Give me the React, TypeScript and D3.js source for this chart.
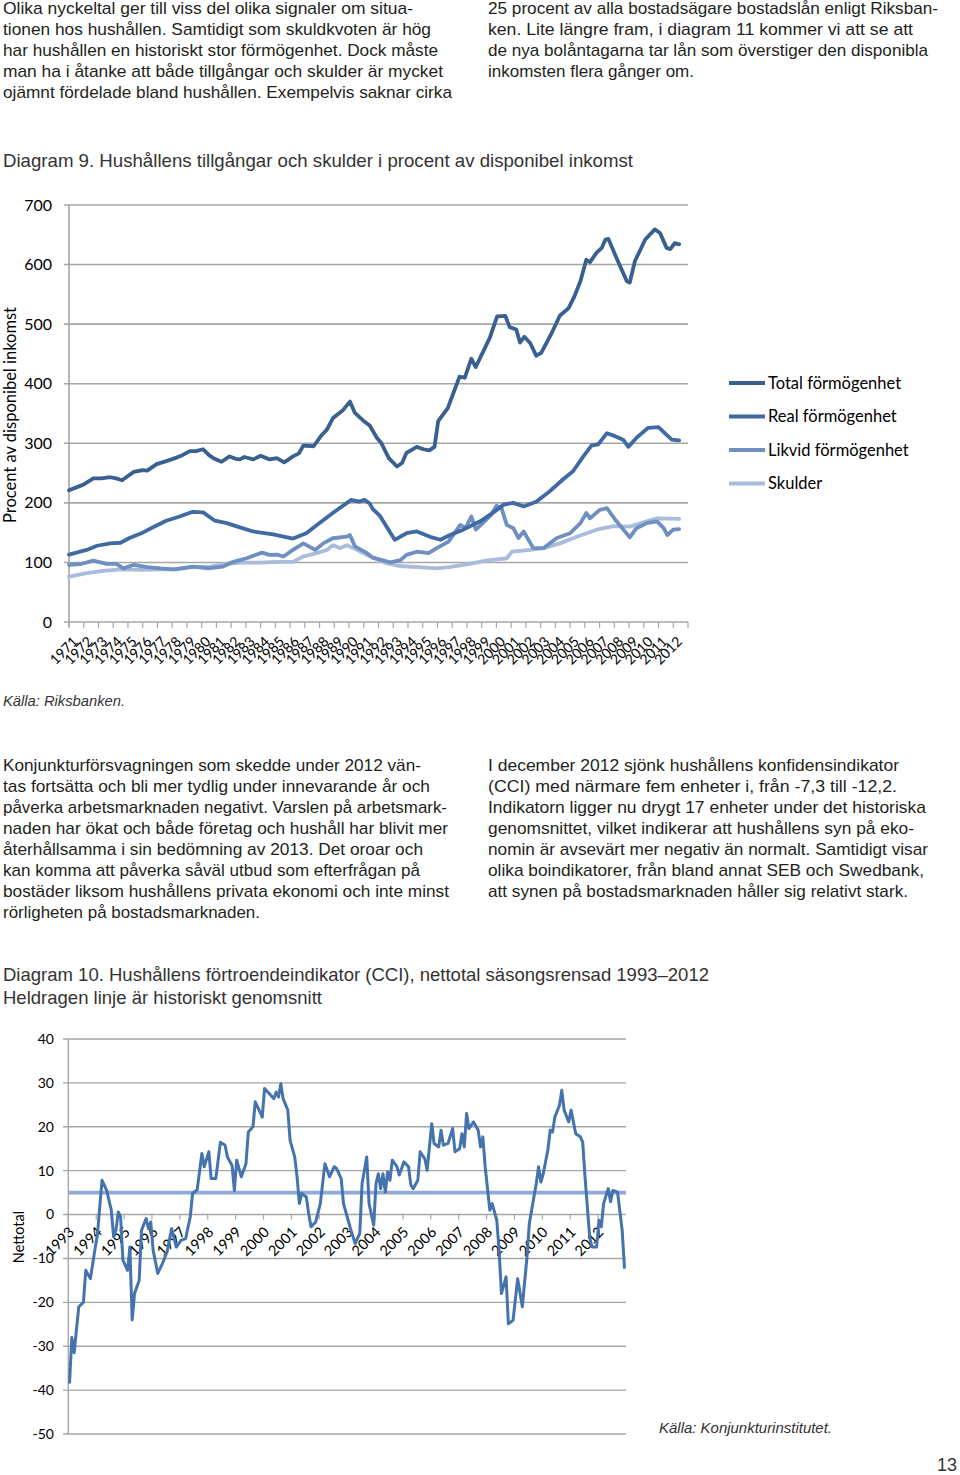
import React from "react";
import * as d3 from "d3";

// ---------- Data: Diagram 9 (procent av disponibel inkomst) ----------
const years9: number[] = d3.range(1971, 2013);
const yTicks9: number[] = [0, 100, 200, 300, 400, 500, 600, 700];

const totalFormogenhet: [number, number][] = [
  [1971.0, 221], [1971.5, 226], [1972.0, 231], [1972.65, 241], [1973.2, 241], [1973.8, 243], [1974.2, 241],
  [1974.6, 238], [1975.0, 245], [1975.4, 252], [1976.0, 255], [1976.3, 254], [1976.95, 265], [1977.6, 270],
  [1978.3, 276], [1978.7, 280], [1979.2, 287], [1979.6, 287], [1980.1, 290], [1980.5, 280], [1980.8, 275],
  [1981.35, 269], [1981.9, 278], [1982.3, 274], [1982.6, 273], [1982.9, 277], [1983.5, 273], [1984.0, 279],
  [1984.6, 273], [1985.1, 275], [1985.6, 268], [1986.2, 278], [1986.6, 283], [1986.9, 296], [1987.6, 295],
  [1988.15, 314], [1988.5, 323], [1988.9, 342], [1989.6, 356], [1990.06, 370], [1990.4, 351], [1990.97, 338],
  [1991.4, 330], [1991.9, 309], [1992.2, 300], [1992.7, 275], [1993.25, 261], [1993.6, 267], [1993.9, 284],
  [1994.6, 294], [1995.05, 290], [1995.45, 288], [1995.8, 294], [1996.05, 337], [1996.7, 359], [1997.5, 412],
  [1997.85, 410], [1998.3, 442], [1998.6, 428], [1999.55, 477], [2000.05, 513], [2000.6, 514], [2000.9, 495],
  [2001.35, 491], [2001.6, 469], [2001.9, 479], [2002.3, 468], [2002.7, 447], [2003.05, 452], [2003.75, 485],
  [2004.3, 514], [2004.9, 527], [2005.3, 547], [2005.7, 572], [2006.1, 608], [2006.35, 604], [2006.8, 620],
  [2007.15, 628], [2007.4, 642], [2007.6, 643], [2008.15, 611], [2008.85, 572], [2009.05, 570], [2009.4, 606],
  [2010.1, 642], [2010.75, 659], [2011.1, 653], [2011.55, 628], [2011.8, 626], [2012.1, 636], [2012.4, 634],
];

const realFormogenhet: [number, number][] = [
  [1971.0, 113], [1972.2, 121], [1972.9, 128], [1973.8, 132], [1974.5, 133], [1975.1, 141], [1976.0, 150],
  [1976.7, 159], [1977.6, 170], [1978.5, 177], [1979.4, 185], [1980.1, 184], [1980.9, 170], [1981.7, 166],
  [1982.7, 158], [1983.5, 152], [1984.85, 147], [1986.2, 140], [1987.1, 149], [1988.0, 166], [1988.9, 183],
  [1990.15, 205], [1990.7, 202], [1991.05, 205], [1991.4, 199], [1991.6, 190], [1992.1, 178], [1993.1, 138],
  [1993.9, 149], [1994.6, 152], [1995.5, 143], [1996.2, 138], [1996.85, 146], [1997.75, 155], [1998.9, 169],
  [1999.8, 184], [2000.5, 197], [2001.15, 200], [2001.85, 194], [2002.7, 202], [2003.6, 219], [2004.55, 240],
  [2005.2, 253], [2005.9, 278], [2006.45, 296], [2006.9, 298], [2007.5, 317], [2008.05, 312], [2008.6, 306],
  [2008.95, 294], [2009.5, 309], [2010.3, 326], [2011.0, 327], [2011.55, 314], [2011.9, 306], [2012.4, 305],
];

const likvidFormogenhet: [number, number][] = [
  [1971.0, 96], [1971.75, 97], [1972.65, 103], [1973.55, 97.5], [1974.2, 97.5], [1974.7, 90], [1975.4, 96],
  [1976.3, 92], [1977.2, 90], [1978.1, 88.5], [1979.4, 93], [1980.45, 90], [1981.45, 93], [1982.15, 101],
  [1983.05, 107], [1984.1, 116.5], [1984.6, 112.6], [1985.1, 113], [1985.55, 110], [1986.2, 121], [1986.9, 132],
  [1987.7, 121], [1988.25, 132], [1988.9, 140.6], [1989.85, 143.4], [1990.06, 146], [1990.4, 127], [1991.2, 116],
  [1991.6, 108], [1992.8, 100], [1993.5, 104], [1993.9, 112.6], [1994.6, 118], [1995.4, 115.5], [1995.95, 124],
  [1996.75, 135], [1997.55, 163], [1997.9, 157.5], [1998.3, 177], [1998.6, 155], [1999.2, 169], [1999.65, 180],
  [2000.0, 195], [2000.35, 191], [2000.7, 163], [2001.15, 157.5], [2001.5, 141], [2001.85, 152], [2002.5, 124],
  [2003.2, 124], [2004.1, 141], [2005.0, 149], [2005.7, 166], [2006.1, 183], [2006.35, 174], [2007.0, 188],
  [2007.5, 191], [2008.15, 169], [2009.05, 142], [2009.5, 157.5], [2010.2, 166], [2010.9, 169], [2011.35, 157.5],
  [2011.6, 146], [2012.0, 155], [2012.4, 156],
];

const skulder: [number, number][] = [
  [1971.0, 76], [1972.2, 82], [1973.3, 86], [1974.5, 88.5], [1976.0, 87.4], [1977.2, 88.5], [1978.3, 88.5],
  [1979.4, 92], [1980.55, 93], [1981.7, 97.5], [1982.8, 99.7], [1984.0, 99.7], [1985.1, 101], [1986.2, 101],
  [1986.9, 110], [1987.8, 115.5], [1988.5, 121], [1988.9, 129], [1989.4, 124], [1989.85, 129], [1990.3, 124],
  [1991.2, 113], [1991.95, 105], [1992.5, 99], [1993.4, 94], [1994.75, 92], [1995.9, 90], [1996.8, 92],
  [1998.15, 97.5], [1999.3, 103], [2000.7, 107], [2001.05, 118], [2002.3, 121], [2003.2, 124], [2004.3, 132],
  [2005.45, 143], [2006.8, 155], [2007.95, 161], [2009.05, 160], [2010.2, 169], [2010.9, 174], [2012.4, 173],
];

const series9Names: string[] = ["Total förmögenhet", "Real förmögenhet", "Likvid förmögenhet", "Skulder"];
const series9Colors: string[] = ["#3a6090", "#4169a3", "#6f8fc0", "#a9bcdb"];

// ---------- Data: Diagram 10 (CCI, nettotal, månadsvis från jan 1993) ----------
const years10: number[] = d3.range(1993, 2013);
const yTicks10: number[] = [40, 30, 20, 10, 0, -10, -20, -30, -40, -50];
const cciMean = 5;
const cciMonth: number[] = [
  0, 1, 2, 4, 6, 7, 9, 11, 12, 14, 16, 18, 19, 20, 21, 22, 23, 25, 26, 27, 28, 30, 31, 33, 34, 35, 36, 38, 40, 42,
  44, 46, 48, 50, 52, 53, 55, 57, 58, 60, 61, 63, 65, 67, 68, 70, 71, 72, 74, 76, 77, 79, 80, 82, 83, 84, 86, 88,
  89, 90, 91, 92, 94, 95, 97, 98, 99, 100, 102, 103, 104, 106, 108, 110, 111, 112, 114, 115, 117, 118, 120, 121,
  123, 125, 126, 128, 129, 131, 132, 133, 134, 135, 136, 137, 138, 139, 141, 142, 144, 146, 147, 148, 150, 151,
  153, 154, 156, 157, 159, 160, 161, 163, 165, 166, 168, 169, 170, 171, 172, 174, 176, 177, 178, 179, 181, 182,
  184, 185, 186, 188, 189, 191, 193, 195, 197, 198, 200, 201, 202, 203, 204, 206, 207, 208, 209, 211, 212, 213,
  215, 216, 218, 220, 221, 222, 224, 225, 227, 228, 229, 230, 232, 233, 234, 236, 238, 239,
];
const cciValue: number[] = [
  -38.5, -28, -31.5, -21, -20, -12.7, -14.6, -7.8, -4.7, 7.8, 5.5, 1, -5.1, -3.6, 0.6, -0.5, -10.4, -12.7, -7.4,
  -24, -18, -15, -3.6, -0.9, -3.2, -1.7, -8.1, -13.4, -11.2, -8.5, -3.2, -7.4, -5.9, -5.5, -0.5, 4.8, 5.7, 13.9,
  10.9, 14.3, 8.2, 8.2, 16.5, 15.8, 13.1, 11.2, 5.5, 12.4, 8.6, 11.6, 18.8, 20, 25.7, 23.4, 22.2, 28.7, 27.6,
  26.4, 27.9, 26.8, 29.8, 26.4, 23.8, 16.9, 13.1, 8.6, 2.5, 4.8, 4, 0.2, -2.8, -1.7, 2.5, 11.6, 10.1, 8.6, 10.9,
  10.5, 8.2, 2.5, -1.3, -3.2, -6.6, -4.3, 7.1, 13.1, 2.5, -2.4, 7.1, 9.3, 5.9, 9.3, 5.1, 9.7, 7.8, 12.4, 10.9,
  9, 12, 10.9, 6.7, 5.9, 7.8, 14.3, 12.7, 10.1, 20.7, 16.2, 15.4, 19.2, 15.8, 16.2, 19.6, 14.3, 15, 18.4, 15.4,
  23, 19.6, 21.1, 19.2, 15.4, 17.7, 10.9, 1, 2.5, -1.3, -8.1, -18, -14.2, -24.9, -24.1, -14.6, -21, -9.7, -2.1,
  4, 7.1, 10.9, 7.4, 9.3, 14.7, 19.2, 18.8, 22.2, 24.9, 28.3, 23.8, 21.1, 23.8, 18.4, 17.7, 16.5, 8.6, -5.1,
  -7.4, -7.4, -1.3, -2.8, 2.5, 5.9, 2.9, 5.5, 5.1, -3.6, -12.3,
];

// ---------- Text ----------
const para1Left: [string, number][] = [
  ["Olika nyckeltal ger till viss del olika signaler om situa-", 410],
  ["tionen hos hushållen. Samtidigt som skuldkvoten är hög", 428],
  ["har hushållen en historiskt stor förmögenhet. Dock måste", 435],
  ["man ha i åtanke att både tillgångar och skulder är mycket", 440],
  ["ojämnt fördelade bland hushållen. Exempelvis saknar cirka", 449],
];
const para1Right: [string, number][] = [
  ["25 procent av alla bostadsägare bostadslån enligt Riksban-", 450],
  ["ken. Lite längre fram, i diagram 11 kommer vi att se att", 425],
  ["de nya bolåntagarna tar lån som överstiger den disponibla", 440],
  ["inkomsten flera gånger om.", 206],
];
const para2Left: [string, number][] = [
  ["Konjunkturförsvagningen som skedde under 2012 vän-", 418],
  ["tas fortsätta och bli mer tydlig under innevarande år och", 427],
  ["påverka arbetsmarknaden negativt. Varslen på arbetsmark-", 444],
  ["naden har ökat och både företag och hushåll har blivit mer", 445],
  ["återhållsamma i sin bedömning av 2013. Det oroar och", 420],
  ["kan komma att påverka såväl utbud som efterfrågan på", 417],
  ["bostäder liksom hushållens privata ekonomi och inte minst", 446],
  ["rörligheten på bostadsmarknaden.", 257],
];
const para2Right: [string, number][] = [
  ["I december 2012 sjönk hushållens konfidensindikator", 411],
  ["(CCI) med närmare fem enheter i, från -7,3 till -12,2.", 409],
  ["Indikatorn ligger nu drygt 17 enheter under det historiska", 438],
  ["genomsnittet, vilket indikerar att hushållens syn på eko-", 426],
  ["nomin är avsevärt mer negativ än normalt. Samtidigt visar", 440],
  ["olika boindikatorer, från bland annat SEB och Swedbank,", 436],
  ["att synen på bostadsmarknaden håller sig relativt stark.", 420],
];

const BODY_FONT = "'Liberation Sans', Arial, sans-serif";
const CHART_FONT = "Lato, 'Open Sans', sans-serif";
const TEXT_COLOR = "#231f20";
const GRID = "#a6a6a6";

function Para({ lines, x, y0, lh }: { lines: [string, number][]; x: number; y0: number; lh: number }) {
  return (
    <g fontFamily={BODY_FONT} fontSize={17} fill={TEXT_COLOR}>
      {lines.map(([t, w], i) => (
        <text key={i} x={x} y={y0 + i * lh} textLength={w} lengthAdjust="spacingAndGlyphs">
          {t}
        </text>
      ))}
    </g>
  );
}

function Chart9() {
  const x = d3.scaleLinear().domain([1971, 2013]).range([69, 688]);
  const y = d3.scaleLinear().domain([0, 700]).range([622, 205]);
  const line = d3
    .line<[number, number]>()
    .x((d) => x(d[0]))
    .y((d) => y(d[1]));
  const allSeries = [totalFormogenhet, realFormogenhet, likvidFormogenhet, skulder];
  const drawOrder = [3, 2, 1, 0];
  return (
    <g>
      {yTicks9.map((t) => (
        <g key={t}>
          <line x1={64} x2={688} y1={y(t)} y2={y(t)} stroke={GRID} strokeWidth={1.6} />
          <text x={52} y={y(t)} dy="0.35em" textAnchor="end" fontFamily={CHART_FONT} fontSize={16} fill="#000">
            {t}
          </text>
        </g>
      ))}
      <line x1={69} x2={69} y1={y(700)} y2={y(0) + 5} stroke={GRID} strokeWidth={1.6} />
      {d3.range(0, years9.length + 1).map((i) => (
        <line key={i} x1={x(1971 + i)} x2={x(1971 + i)} y1={y(0)} y2={y(0) + 6} stroke={GRID} strokeWidth={1.2} />
      ))}
      {years9.map((yr) => (
        <text
          key={yr}
          transform={`translate(${x(yr + 0.5) - 1},${y(0) + 17}) rotate(-45)`}
          textAnchor="end"
          dy="0.35em"
          fontFamily={CHART_FONT}
          fontSize={14}
          fill="#000"
        >
          {yr}
        </text>
      ))}
      {drawOrder.map((k) => (
        <path
          key={k}
          d={line(allSeries[k]) || ""}
          fill="none"
          stroke={series9Colors[k]}
          strokeWidth={3.8}
          strokeLinejoin="round"
          strokeLinecap="round"
        />
      ))}
      <text
        transform="translate(16,415) rotate(-90)"
        textAnchor="middle"
        fontFamily={CHART_FONT}
        fontSize={16.5}
        fill="#000"
      >
        Procent av disponibel inkomst
      </text>
      {series9Names.map((n, i) => (
        <g key={n}>
          <line x1={729} x2={765} y1={383 + i * 33.5} y2={383 + i * 33.5} stroke={series9Colors[i]} strokeWidth={4} />
          <text x={768} y={383 + i * 33.5} dy="0.36em" fontFamily={CHART_FONT} fontSize={16.5} fill="#000">
            {n}
          </text>
        </g>
      ))}
    </g>
  );
}

function Chart10() {
  const x = d3.scaleLinear().domain([0, 239]).range([69.5, 624.5]);
  const xTick = d3.scaleLinear().domain([0, 240]).range([68.3, 626]);
  const y = d3.scaleLinear().domain([-50, 40]).range([1434, 1039]);
  const pts: [number, number][] = cciMonth.map((m, i) => [m, cciValue[i]]);
  const line = d3
    .line<[number, number]>()
    .x((d) => x(d[0]))
    .y((d) => y(d[1]));
  return (
    <g>
      {yTicks10.map((t) => (
        <g key={t}>
          <line x1={63} x2={626} y1={y(t)} y2={y(t)} stroke={GRID} strokeWidth={1.4} />
          <text x={54} y={y(t)} dy="0.35em" textAnchor="end" fontFamily={CHART_FONT} fontSize={14} fill="#000">
            {t}
          </text>
        </g>
      ))}
      <line x1={68.3} x2={68.3} y1={y(40)} y2={y(-50)} stroke={GRID} strokeWidth={1.4} />
      {years10.map((yr, i) => (
        <line key={yr} x1={xTick(i * 12)} x2={xTick(i * 12)} y1={y(0)} y2={y(0) + 5} stroke={GRID} strokeWidth={1.2} />
      ))}
      {years10.map((yr, i) => (
        <text
          key={yr}
          transform={`translate(${x(i * 12) + 2},${y(0) + 15}) rotate(-45)`}
          textAnchor="end"
          dy="0.35em"
          fontFamily={CHART_FONT}
          fontSize={14.5}
          fill="#000"
        >
          {yr}
        </text>
      ))}
      <line x1={68.3} x2={626} y1={y(cciMean)} y2={y(cciMean)} stroke="#8eaad6" strokeWidth={3.6} />
      <path d={line(pts) || ""} fill="none" stroke="#4573ad" strokeWidth={3} strokeLinejoin="round" />
      <text
        transform="translate(24,1237) rotate(-90)"
        textAnchor="middle"
        fontFamily={CHART_FONT}
        fontSize={14.5}
        fill="#000"
      >
        Nettotal
      </text>
    </g>
  );
}

export default function App() {
  return (
    <svg
      width={960}
      height={1475}
      viewBox="0 0 960 1475"
      style={{ position: "absolute", left: 0, top: 0, background: "#fff" }}
    >
      <rect width={960} height={1475} fill="#fff" />
      <Para lines={para1Left} x={3} y0={14} lh={21} />
      <Para lines={para1Right} x={488} y0={14} lh={21} />
      <text
        x={3}
        y={167}
        fontFamily={BODY_FONT}
        fontSize={19}
        fill="#333"
        textLength={630}
        lengthAdjust="spacingAndGlyphs"
      >
        Diagram 9. Hushållens tillgångar och skulder i procent av disponibel inkomst
      </text>
      <Chart9 />
      <text
        x={3}
        y={706}
        fontFamily={BODY_FONT}
        fontSize={15}
        fontStyle="italic"
        fill="#333"
        textLength={122}
        lengthAdjust="spacingAndGlyphs"
      >
        Källa: Riksbanken.
      </text>
      <Para lines={para2Left} x={3} y0={771} lh={21} />
      <Para lines={para2Right} x={488} y0={771} lh={21} />
      <text
        x={3}
        y={981}
        fontFamily={BODY_FONT}
        fontSize={19}
        fill="#333"
        textLength={706}
        lengthAdjust="spacingAndGlyphs"
      >
        Diagram 10. Hushållens förtroendeindikator (CCI), nettotal säsongsrensad 1993–2012
      </text>
      <text
        x={3}
        y={1004}
        fontFamily={BODY_FONT}
        fontSize={19}
        fill="#333"
        textLength={319}
        lengthAdjust="spacingAndGlyphs"
      >
        Heldragen linje är historiskt genomsnitt
      </text>
      <Chart10 />
      <text
        x={659}
        y={1433}
        fontFamily={BODY_FONT}
        fontSize={15}
        fontStyle="italic"
        fill="#333"
        textLength={173}
        lengthAdjust="spacingAndGlyphs"
      >
        Källa: Konjunkturinstitutet.
      </text>
      <text x={957} y={1471} textAnchor="end" fontFamily={BODY_FONT} fontSize={18} fill="#333">
        13
      </text>
    </svg>
  );
}
